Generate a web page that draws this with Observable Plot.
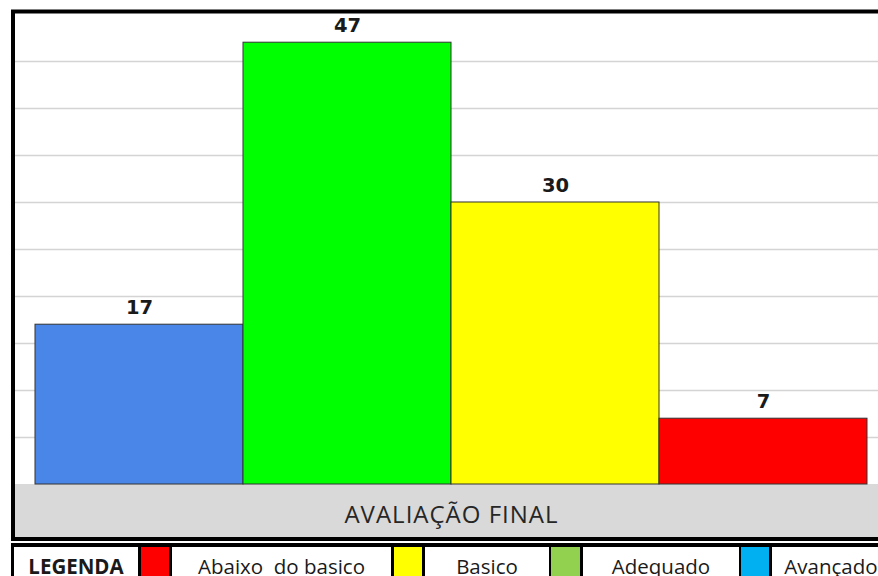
<!DOCTYPE html>
<html>
<head>
<meta charset="utf-8">
<script src="https://cdn.jsdelivr.net/npm/d3@7"></script>
<script src="https://cdn.jsdelivr.net/npm/@observablehq/plot@0.6"></script>
<style>
  html, body { margin: 0; padding: 0; background: #fff; overflow: hidden; }
  #wrap { width: 878px; height: 576px; position: relative; overflow: hidden; }
  #legend { position: absolute; left: 0; top: 543px; width: 878px; height: 40px; }
  .cell { position: absolute; top: 4px; height: 40px; box-sizing: border-box;
          font-family: "Open Sans", sans-serif; font-size: 20.5px; color: #1a1a1a;
          text-align: center; line-height: 20px; padding-top: 9px; white-space: pre; }
</style>
</head>
<body>
<div id="wrap">
  <div id="chart"></div>
  <div id="legend"></div>
</div>
<script>
// ---- data ----
const categories = ["Avançado", "Adequado", "Basico", "Abaixo do basico"];
const values = [17, 47, 30, 7];
const barColors = ["#4a86e8", "#00ff00", "#ffff00", "#ff0000"];
const gridTicks = [5, 10, 15, 20, 25, 30, 35, 40, 45];
const axisTitle = "AVALIAÇÃO FINAL";
const legendTitle = "LEGENDA";
const legendLabels = ["Abaixo  do basico", "Basico", "Adequado", "Avançado"];
const legendColors = ["#ff0000", "#ffff00", "#92d050", "#00b0f0"];

const data = categories.map((c, i) => ({category: c, value: values[i], color: barColors[i]}));

// decorative background band below the plot area
function band(index, scales, values, dims) {
  const g = d3.create("svg:g");
  g.append("rect")
    .attr("x", dims.marginLeft).attr("y", dims.height - dims.marginBottom)
    .attr("width", dims.width).attr("height", dims.marginBottom - 4)
    .attr("fill", "#d9d9d9");
  return g.node();
}
// thick outer border
function border(index, scales, values, dims) {
  const g = d3.create("svg:g");
  g.append("rect")
    .attr("x", 13).attr("y", 11.5)
    .attr("width", dims.width + 30).attr("height", dims.height - 2 - 11.5)
    .attr("fill", "none").attr("stroke", "#000").attr("stroke-width", 4);
  return g.node();
}

const chart = Plot.plot({
  width: 878,
  height: 541,
  marginLeft: 15,
  marginRight: 0,
  marginTop: 13,
  marginBottom: 57,
  style: {background: "#fff", overflow: "hidden"},
  x: {domain: categories, range: [35, 867], padding: 0, axis: null},
  y: {domain: [0, 50], range: [484, 14], axis: null},
  marks: [
    band,
    Plot.ruleY(gridTicks, {stroke: "#d4d4d4", strokeWidth: 1.6}),
    Plot.barY(data, {x: "category", y: "value", fill: "color", stroke: "#333", strokeWidth: 1, inset: 0}),
    Plot.text(data, {x: "category", y: "value", text: d => String(d.value), dy: -11, lineAnchor: "bottom",
      fontFamily: "DejaVu Sans", fontWeight: "bold", fontSize: 19.5, fill: "#1a1a1a"}),
    Plot.text([axisTitle], {frameAnchor: "bottom", text: d => d, dx: 4.5, dy: 31, lineAnchor: "middle",
      fontFamily: "Open Sans", fontSize: 24, fill: "#262626"}),
    border
  ]
});
chart.querySelectorAll("text").forEach(t => {
  if (t.textContent === axisTitle) t.style.letterSpacing = "1px";
});
document.getElementById("chart").appendChild(chart);

// ---- legend row ----
const legend = document.getElementById("legend");
legend.style.background = "#000";
legend.style.left = "11px";
legend.style.width = "900px";
const cells = [
  {l: 14, r: 138, bg: "#fff", text: legendTitle, bold: true},
  {l: 141, r: 169, bg: legendColors[0]},
  {l: 172, r: 391, bg: "#fff", text: legendLabels[0]},
  {l: 394, r: 422, bg: legendColors[1]},
  {l: 425, r: 549, bg: "#fff", text: legendLabels[1]},
  {l: 551, r: 580, bg: legendColors[2]},
  {l: 583, r: 739, bg: "#fff", text: legendLabels[2]},
  {l: 741, r: 769, bg: legendColors[3]},
  {l: 772, r: 890, bg: "#fff", text: legendLabels[3]}
];
for (const c of cells) {
  const d = document.createElement("div");
  d.className = "cell";
  d.style.left = (c.l - 11) + "px";
  d.style.width = (c.r - c.l) + "px";
  d.style.background = c.bg;
  if (c.text) d.textContent = c.text;
  if (c.bold) d.style.fontWeight = "bold";
  legend.appendChild(d);
}
</script>
</body>
</html>
